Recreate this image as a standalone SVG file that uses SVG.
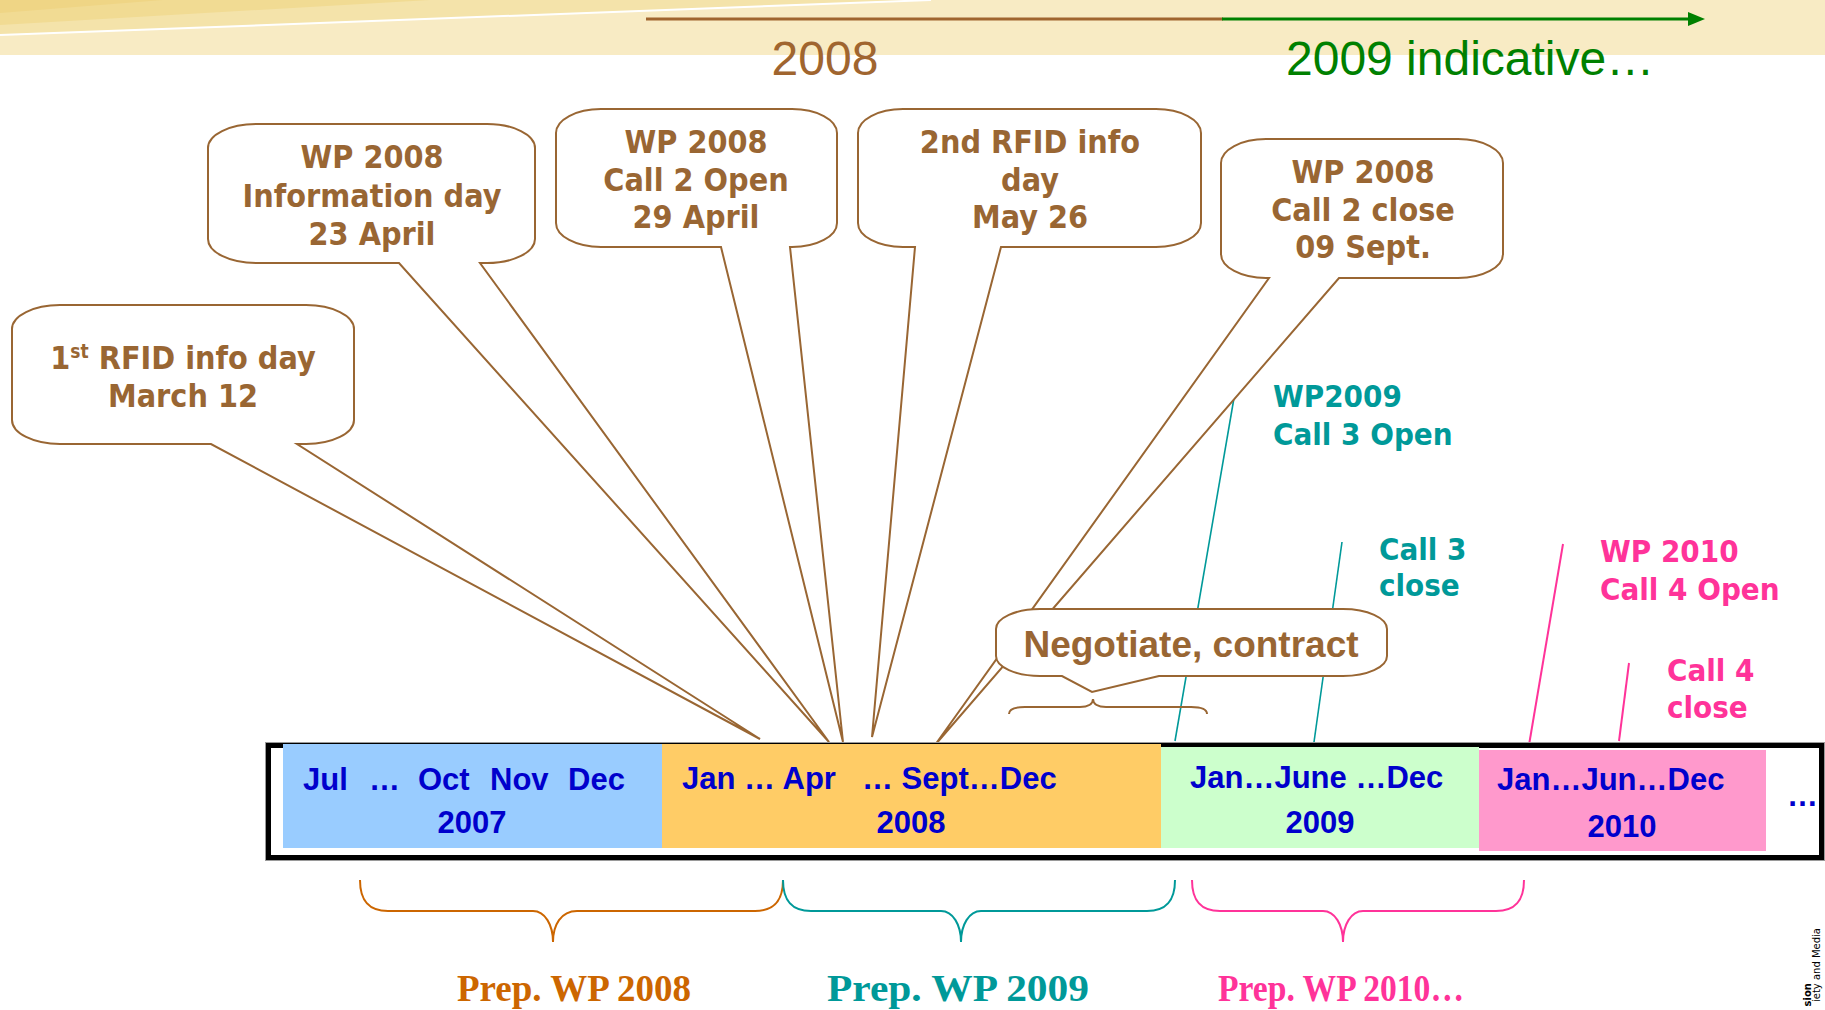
<svg xmlns="http://www.w3.org/2000/svg" width="1825" height="1010" viewBox="0 0 1825 1010">
<defs>
<style>
.co{fill:#fff;stroke:#996633;stroke-width:2}
.ct{font-family:'DejaVu Sans Condensed','DejaVu Sans',sans-serif;font-stretch:condensed;font-weight:bold;font-size:32px;fill:#996633;text-anchor:middle}
.lab{font-family:'DejaVu Sans Condensed','DejaVu Sans',sans-serif;font-stretch:condensed;font-weight:bold;font-size:31px}
.tl{font-family:'Liberation Sans',Arial,sans-serif;font-weight:bold;font-size:31px;fill:#0000CC}
.prep{font-family:'Liberation Serif','Times New Roman',serif;font-weight:bold;font-size:37px;text-anchor:middle}
.br{fill:none;stroke-width:2}
</style>
</defs>
<rect x="0" y="0" width="1825" height="1010" fill="#fff"/>
<g id="header">
<rect x="0" y="0" width="1825" height="55" fill="#F8EBC4"/>
<polygon points="0,0 931,0 0,35" fill="#F4E3AA"/>
<polygon points="0,0 430,0 0,25" fill="#F1DB93"/>
<polygon points="0,0 163,0 0,13" fill="#EFD585"/>
<line x1="0" y1="35" x2="931" y2="0" stroke="#fff" stroke-width="2"/>
<line x1="646" y1="19" x2="1223" y2="19" stroke="#A0652F" stroke-width="3"/>
<line x1="1222" y1="19" x2="1692" y2="19" stroke="#008000" stroke-width="3"/>
<polygon points="1688,12 1705,19 1688,26" fill="#008000"/>
<text x="825" y="75" font-family="'Liberation Sans',Arial,sans-serif" font-size="48" fill="#A0652F" text-anchor="middle">2008</text>
<text x="1286" y="75" font-family="'Liberation Sans',Arial,sans-serif" font-size="48" fill="#008000">2009 indicative…</text>
</g>
<g id="connectors">
<line x1="1234" y1="398" x2="1175" y2="741" stroke="#009999" stroke-width="1.6"/>
<line x1="1342" y1="542" x2="1314" y2="742" stroke="#009999" stroke-width="1.6"/>
<line x1="1563" y1="544" x2="1529" y2="745" stroke="#FF3399" stroke-width="2"/>
<line x1="1629" y1="663" x2="1619" y2="741" stroke="#FF3399" stroke-width="2"/>
</g>
<g id="callout-1">
<path class="co" d="M60,305 H306 A48,24 0 0 1 354,329 V420 A48,24 0 0 1 306,444 H297 L760,739 L211,444 H60 A48,24 0 0 1 12,420 V329 A48,24 0 0 1 60,305 Z"/>
<text class="ct" x="183" y="369">1<tspan font-size="19" dy="-11">st</tspan><tspan dy="11"> RFID info day</tspan></text>
<text class="ct" x="183" y="407">March 12</text>
</g>
<g id="callout-2">
<path class="co" d="M256,124 H487 A48,24 0 0 1 535,148 V239 A48,24 0 0 1 487,263 H480 L829,742 L399,263 H256 A48,24 0 0 1 208,239 V148 A48,24 0 0 1 256,124 Z"/>
<text class="ct" x="372" y="168">WP 2008</text>
<text class="ct" x="372" y="207">Information day</text>
<text class="ct" x="372" y="245">23 April</text>
</g>
<g id="callout-3">
<path class="co" d="M601,109 H792 A45,24 0 0 1 837,133 V223 A45,24 0 0 1 792,247 H790 L843,742 L721,247 H601 A45,24 0 0 1 556,223 V133 A45,24 0 0 1 601,109 Z"/>
<text class="ct" x="696" y="153">WP 2008</text>
<text class="ct" x="696" y="191">Call 2 Open</text>
<text class="ct" x="696" y="228">29 April</text>
</g>
<g id="callout-4">
<path class="co" d="M903,109 H1156 A45,24 0 0 1 1201,133 V223 A45,24 0 0 1 1156,247 H1001 L872,737 L915,247 H903 A45,24 0 0 1 858,223 V133 A45,24 0 0 1 903,109 Z"/>
<text class="ct" x="1030" y="153">2nd RFID info</text>
<text class="ct" x="1030" y="191">day</text>
<text class="ct" x="1030" y="228">May 26</text>
</g>
<g id="callout-5">
<path class="co" d="M1266,139 H1458 A45,24 0 0 1 1503,163 V254 A45,24 0 0 1 1458,278 H1339 L935,745 L1269,278 H1266 A45,24 0 0 1 1221,254 V163 A45,24 0 0 1 1266,139 Z"/>
<text class="ct" x="1363" y="183">WP 2008</text>
<text class="ct" x="1363" y="221">Call 2 close</text>
<text class="ct" x="1363" y="258">09 Sept.</text>
</g>
<g id="negotiate">
<path class="co" d="M1040,609 H1343 A44,20 0 0 1 1387,629 V656 A44,20 0 0 1 1343,676 H1159 L1092,692 L1062,676 H1040 A44,20 0 0 1 996,656 V629 A44,20 0 0 1 1040,609 Z"/>
<text x="1191" y="657" font-family="'Liberation Sans',Arial,sans-serif" font-weight="bold" font-size="37" fill="#996633" text-anchor="middle">Negotiate, contract</text>
<path class="br" stroke="#996633" d="M1009,714 C1009,709 1015,707 1025,707 H1080 C1088,707 1093,704 1093,699 C1093,704 1098,707 1106,707 H1191 C1201,707 1207,709 1207,714"/>
</g>
<g id="labels">
<text class="lab" fill="#009999" x="1273" y="407">WP2009</text>
<text class="lab" fill="#009999" x="1273" y="445">Call 3 Open</text>
<text class="lab" fill="#009999" x="1379" y="560">Call 3</text>
<text class="lab" fill="#009999" x="1379" y="596">close</text>
<text class="lab" fill="#FF3399" x="1600" y="562">WP 2010</text>
<text class="lab" fill="#FF3399" x="1600" y="600">Call 4 Open</text>
<text class="lab" fill="#FF3399" x="1667" y="681">Call 4</text>
<text class="lab" fill="#FF3399" x="1667" y="718">close</text>
</g>
<g id="timeline">
<rect x="268.5" y="745.5" width="1553" height="112" fill="#fff" stroke="#9a9a9a" stroke-width="7"/>
<rect x="268.5" y="745.5" width="1553" height="112" fill="#fff" stroke="#000" stroke-width="5"/>
<rect x="283" y="744" width="379" height="104" fill="#99CCFF"/>
<rect x="662" y="744" width="499" height="104" fill="#FFCC66"/>
<rect x="1161" y="747" width="318" height="101" fill="#CCFFCC"/>
<rect x="1479" y="750" width="287" height="101" fill="#FF99CC"/>
<text class="tl" x="303" y="790">Jul</text>
<text class="tl" x="369" y="790">…</text>
<text class="tl" x="418" y="790">Oct</text>
<text class="tl" x="490" y="790">Nov</text>
<text class="tl" x="568" y="790">Dec</text>
<text class="tl" x="472" y="833" text-anchor="middle">2007</text>
<text class="tl" x="682" y="789">Jan … Apr</text>
<text class="tl" x="862" y="789">… Sept…Dec</text>
<text class="tl" x="911" y="833" text-anchor="middle">2008</text>
<text class="tl" x="1190" y="788">Jan…June …Dec</text>
<text class="tl" x="1320" y="833" text-anchor="middle">2009</text>
<text class="tl" x="1497" y="790">Jan…Jun…Dec</text>
<text class="tl" x="1622" y="837" text-anchor="middle">2010</text>
<text class="tl" x="1787" y="806">…</text>
</g>
<g id="prep-2008">
<path class="br" stroke="#CC6600" d="M360,880 C360,900 368,911 388,911 H533 C545,911 553,925 553,942 C553,925 561,911 577,911 H755 C775,911 783,900 783,880"/>
<text class="prep" fill="#CC6600" x="574" y="1001">Prep. WP 2008</text>
</g>
<g id="prep-2009">
<path class="br" stroke="#009999" d="M783,880 C783,900 791,911 811,911 H941 C953,911 961,925 961,942 C961,925 969,911 981,911 H1147 C1167,911 1175,900 1175,880"/>
<text class="prep" fill="#009999" x="958" y="1001" textLength="262" lengthAdjust="spacingAndGlyphs">Prep. WP 2009</text>
</g>
<g id="prep-2010">
<path class="br" stroke="#FF3399" d="M1192,880 C1192,900 1200,911 1220,911 H1323 C1335,911 1343,925 1343,942 C1343,925 1351,911 1363,911 H1496 C1516,911 1524,900 1524,880"/>
<text class="prep" fill="#FF3399" x="1341" y="1001" textLength="246" lengthAdjust="spacingAndGlyphs">Prep. WP 2010…</text>
</g>
<g id="side-note" font-family="'DejaVu Sans',sans-serif" font-size="10" fill="#000">
<text transform="translate(1811,983) rotate(-90)" font-weight="bold" text-anchor="end">sion</text>
<text transform="translate(1820,928) rotate(-90)" text-anchor="end">iety and Media</text>
</g>
</svg>
